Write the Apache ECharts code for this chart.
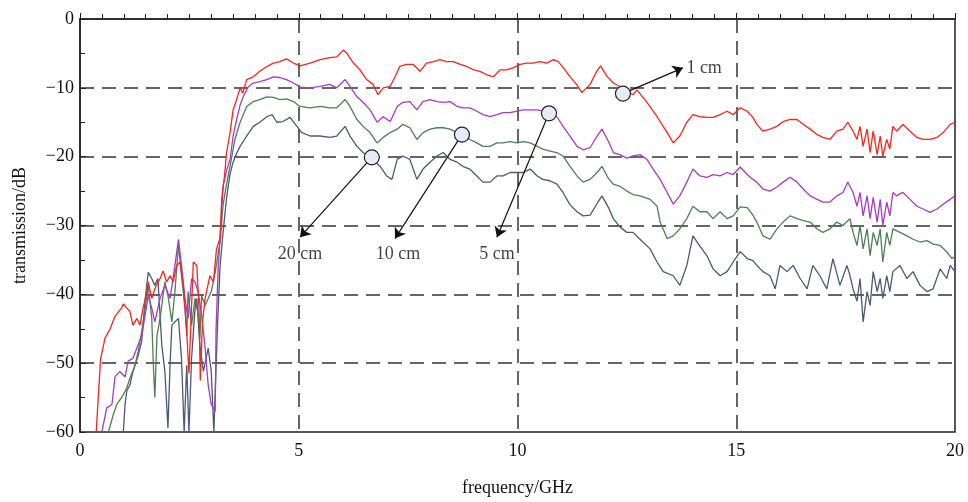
<!DOCTYPE html>
<html><head><meta charset="utf-8">
<script src="https://cdn.jsdelivr.net/npm/echarts@6/dist/echarts.min.js"></script>
<style>html,body{margin:0;padding:0;background:#fff}#c{width:968px;height:502px}</style>
</head><body><div id="c"></div>
<script>
// ---- data (frequency GHz, transmission dB) ----
const seriesNames = ['1 cm', '5 cm', '10 cm', '20 cm'];
const red1cm = [[0.37,-60],[0.47,-49.4],[0.57,-46.4],[0.69,-45],[0.8,-43.2],[0.95,-42],[0.99,-41.4],[1.07,-42],[1.14,-42.5],[1.21,-44.5],[1.3,-43.5],[1.37,-44.5],[1.44,-42],[1.52,-40],[1.56,-38.2],[1.64,-40.6],[1.71,-39.2],[1.83,-37.7],[1.9,-36.6],[1.98,-38.2],[2.06,-37.3],[2.13,-38.2],[2.21,-35.8],[2.29,-35.3],[2.36,-38.7],[2.44,-45.4],[2.49,-51.5],[2.53,-45],[2.59,-35.3],[2.67,-35.8],[2.72,-42],[2.75,-52.5],[2.8,-44],[2.86,-40.6],[2.97,-37.3],[3.05,-38.2],[3.12,-33.4],[3.2,-31.9],[3.24,-26],[3.3,-23],[3.35,-19.4],[3.43,-16.5],[3.5,-13.2],[3.58,-11.7],[3.66,-10],[3.72,-10.8],[3.81,-8.8],[3.96,-8.4],[4.11,-7.6],[4.27,-6.9],[4.42,-6.4],[4.57,-6.2],[4.72,-5.8],[4.88,-6.4],[5.03,-6.8],[5.26,-6.4],[5.49,-5.9],[5.71,-5.6],[5.87,-5.5],[6.02,-4.5],[6.1,-5],[6.25,-6.4],[6.4,-7.4],[6.55,-8.8],[6.7,-9.5],[6.81,-11],[6.93,-10],[7.09,-9.8],[7.2,-8.4],[7.31,-6.9],[7.46,-6.6],[7.62,-6.6],[7.77,-7.6],[7.92,-6.4],[8.08,-6.2],[8.23,-5.9],[8.38,-6.2],[8.53,-6.2],[8.69,-6.6],[8.84,-6.9],[9.0,-7.4],[9.14,-7.6],[9.3,-8.1],[9.45,-8.4],[9.6,-7.4],[9.75,-7.4],[9.9,-7.1],[10.06,-6.6],[10.21,-6.4],[10.36,-6.4],[10.51,-6.2],[10.67,-6.4],[10.82,-5.9],[10.93,-6.2],[11.05,-7.1],[11.2,-8.4],[11.35,-9.5],[11.47,-10.7],[11.66,-9.5],[11.81,-7.6],[11.9,-6.8],[12.04,-8.3],[12.19,-9.3],[12.34,-9.8],[12.5,-10.5],[12.64,-11],[12.73,-10.3],[12.96,-12.1],[13.19,-14.2],[13.42,-16.5],[13.56,-18],[13.71,-17],[13.87,-15],[14.01,-13.9],[14.17,-14.2],[14.33,-14.3],[14.47,-14.3],[14.63,-13.9],[14.79,-13.4],[14.93,-13.9],[15.09,-12.9],[15.25,-13.4],[15.38,-14.3],[15.47,-15.3],[15.61,-16.3],[15.77,-16],[15.93,-15.6],[16.07,-14.9],[16.23,-14.6],[16.39,-14.6],[16.53,-15.3],[16.69,-16],[16.85,-16.8],[16.98,-17.2],[17.14,-17.5],[17.3,-16.3],[17.44,-16],[17.55,-15],[17.67,-16.3],[17.76,-17.5],[17.83,-15.6],[17.9,-18.5],[17.99,-16],[18.06,-19.4],[18.13,-16.3],[18.22,-19.7],[18.29,-17],[18.35,-19.9],[18.44,-17.5],[18.51,-18.9],[18.58,-15.6],[18.67,-16.3],[18.74,-15.8],[18.81,-15.3],[18.97,-16.3],[19.13,-17.2],[19.27,-17.5],[19.43,-17.5],[19.59,-17.2],[19.73,-16.5],[19.89,-15.3],[20,-15]];
const purple5cm = [[0.5,-60],[0.61,-56.5],[0.73,-56],[0.8,-52],[0.91,-51.2],[1.03,-52],[1.1,-49.7],[1.21,-49.3],[1.3,-47.8],[1.41,-46],[1.49,-43],[1.56,-40.2],[1.64,-42],[1.71,-44],[1.83,-40.6],[1.94,-38.7],[2.06,-40.6],[2.17,-35.8],[2.25,-32],[2.32,-35.8],[2.4,-40.6],[2.47,-43.5],[2.55,-37.7],[2.63,-38.2],[2.7,-39.6],[2.78,-43],[2.86,-47.8],[2.93,-53.2],[3.0,-56],[3.09,-57],[3.11,-45],[3.16,-36],[3.22,-30],[3.27,-24.3],[3.35,-22],[3.43,-20.4],[3.5,-17],[3.58,-14.6],[3.66,-12.5],[3.73,-11.3],[3.85,-9.8],[3.96,-9.3],[4.11,-9.1],[4.27,-8.8],[4.42,-8.4],[4.57,-8.5],[4.72,-8.8],[4.88,-9.3],[5.03,-9.9],[5.26,-10],[5.49,-9.8],[5.71,-9.5],[5.87,-10],[6.06,-8.8],[6.17,-9.8],[6.33,-11.3],[6.47,-12.1],[6.63,-13.2],[6.79,-15],[6.93,-14.2],[7.09,-14.9],[7.25,-12.7],[7.38,-12.1],[7.54,-12],[7.7,-13.2],[7.84,-12],[8.0,-11.7],[8.16,-12],[8.3,-12.1],[8.46,-12],[8.62,-12.7],[8.75,-12.9],[8.91,-12.9],[9.07,-13.4],[9.21,-13.9],[9.37,-14.2],[9.53,-13.9],[9.67,-13.6],[9.83,-13.6],[9.99,-13.4],[10.13,-13.2],[10.29,-13.2],[10.45,-13.2],[10.58,-13.4],[10.74,-13.6],[10.9,-14.2],[11.04,-15.6],[11.2,-17],[11.36,-18.5],[11.5,-19],[11.66,-18.7],[11.82,-17],[11.93,-16],[12.08,-17.8],[12.19,-19.4],[12.34,-19.7],[12.5,-20.2],[12.64,-19.9],[12.8,-19.7],[12.96,-20.4],[13.1,-21.8],[13.26,-23.3],[13.42,-25.2],[13.56,-26.9],[13.71,-25.7],[13.87,-23.7],[14.01,-21.8],[14.17,-22.8],[14.33,-23],[14.47,-22.6],[14.63,-22.8],[14.79,-22.3],[14.93,-22.6],[15.09,-21.5],[15.25,-22.6],[15.38,-23.3],[15.47,-23.7],[15.61,-24.7],[15.77,-25],[15.93,-24.4],[16.07,-23.7],[16.23,-23],[16.39,-23.7],[16.53,-24.7],[16.69,-25.7],[16.85,-26.2],[16.98,-26.6],[17.14,-26.6],[17.3,-25.7],[17.44,-25.2],[17.55,-23.7],[17.67,-25.2],[17.76,-27.2],[17.83,-25.2],[17.9,-28.6],[17.99,-25.7],[18.06,-29],[18.13,-25.9],[18.22,-29.5],[18.29,-26.2],[18.35,-30],[18.44,-26.6],[18.51,-28.6],[18.58,-25.2],[18.67,-25.7],[18.74,-25.4],[18.81,-25.2],[18.97,-26.2],[19.13,-27.2],[19.27,-27.6],[19.43,-28.1],[19.59,-27.6],[19.73,-26.9],[19.89,-26.2],[20,-25.7]];
const green10cm = [[0.65,-60],[0.76,-57.5],[0.84,-56],[0.95,-55],[1.07,-53.6],[1.14,-52.2],[1.26,-50.3],[1.33,-48.3],[1.41,-45.4],[1.49,-42],[1.56,-38.7],[1.64,-43.5],[1.68,-50.8],[1.71,-55],[1.76,-46],[1.83,-43.5],[1.94,-38.2],[2.01,-40.2],[2.1,-44],[2.17,-39.6],[2.25,-32.8],[2.32,-37.3],[2.4,-42],[2.44,-46],[2.47,-39.6],[2.55,-44.5],[2.63,-40.6],[2.7,-43],[2.74,-46.4],[2.78,-40.2],[2.86,-41.6],[2.93,-40.6],[3.0,-39.6],[3.09,-36.8],[3.2,-32.4],[3.27,-27],[3.35,-24],[3.43,-21.4],[3.54,-17.5],[3.66,-15],[3.81,-12.7],[3.96,-12],[4.11,-11.7],[4.27,-11.3],[4.42,-11.4],[4.57,-11.7],[4.72,-11.6],[4.88,-12],[5.03,-12.7],[5.26,-12.9],[5.49,-12.7],[5.71,-12.9],[5.87,-12.9],[6.06,-11.7],[6.17,-12.7],[6.33,-14.6],[6.47,-15.6],[6.63,-16.5],[6.79,-18],[6.93,-17.2],[7.09,-16.5],[7.25,-16],[7.38,-15.3],[7.54,-15.8],[7.7,-17.5],[7.84,-16.5],[8.0,-16],[8.16,-15.8],[8.3,-15.8],[8.46,-16],[8.62,-16.5],[8.75,-17],[8.91,-17.5],[9.07,-18],[9.21,-18.5],[9.37,-18.5],[9.53,-18],[9.67,-18],[9.83,-17.8],[9.99,-18],[10.13,-17.8],[10.29,-18],[10.45,-18.5],[10.58,-18.9],[10.74,-19.2],[10.9,-19.4],[11.04,-19.9],[11.2,-21.4],[11.36,-22.8],[11.5,-23.7],[11.66,-23.3],[11.82,-22.3],[11.93,-21.4],[12.08,-23.2],[12.19,-24],[12.34,-24.3],[12.5,-25],[12.64,-25.5],[12.8,-25.7],[13.03,-26.2],[13.19,-27.2],[13.26,-29.5],[13.42,-31.9],[13.56,-31.5],[13.71,-30.5],[13.87,-29],[14.01,-27.2],[14.17,-28],[14.33,-28],[14.47,-29],[14.63,-28],[14.79,-29],[14.93,-28.6],[15.09,-27.3],[15.25,-27.4],[15.38,-28.5],[15.47,-29.5],[15.61,-31.5],[15.77,-32],[15.93,-30.5],[16.07,-29.5],[16.23,-28.6],[16.39,-29],[16.53,-29.3],[16.69,-29.5],[16.85,-30.5],[16.98,-31],[17.14,-30.5],[17.3,-29.5],[17.44,-30],[17.6,-29],[17.67,-31],[17.76,-32.9],[17.83,-30],[17.9,-33.4],[17.99,-30.5],[18.06,-34.4],[18.13,-31],[18.22,-32.9],[18.29,-30.5],[18.35,-35.3],[18.44,-31],[18.51,-32.9],[18.58,-30.5],[18.74,-31],[18.9,-31.5],[19.04,-32],[19.2,-32.4],[19.36,-32.2],[19.5,-32.7],[19.66,-32.9],[19.81,-33.8],[19.93,-34.8],[20,-34.5]];
const grey20cm = [[0.99,-60],[1.03,-56],[1.07,-54],[1.14,-53.2],[1.21,-51.2],[1.33,-48.9],[1.41,-46.8],[1.49,-40.6],[1.56,-36.8],[1.64,-37.7],[1.71,-38.7],[1.78,-37.7],[1.87,-47.4],[1.94,-51.2],[2.01,-59.4],[2.06,-50],[2.1,-44.5],[2.17,-44],[2.25,-43.5],[2.32,-49.3],[2.38,-60],[2.44,-50.3],[2.49,-60],[2.55,-49.3],[2.63,-42],[2.67,-40.6],[2.74,-47.4],[2.82,-51.2],[2.93,-47.8],[3.0,-51.2],[3.06,-60],[3.1,-60],[3.14,-45],[3.2,-36],[3.27,-31],[3.35,-26],[3.43,-22.5],[3.5,-20.8],[3.58,-19.5],[3.66,-18.5],[3.81,-17],[3.96,-15.6],[4.11,-15],[4.27,-14.2],[4.39,-13.9],[4.5,-15],[4.64,-14.9],[4.8,-14.3],[4.96,-15.6],[5.07,-16.5],[5.26,-17],[5.49,-17],[5.71,-17.2],[5.87,-17],[6.06,-15.6],[6.17,-17],[6.33,-18.5],[6.47,-19.4],[6.67,-20.3],[6.86,-21.4],[7.01,-22.8],[7.13,-23.3],[7.25,-20.4],[7.38,-19.9],[7.54,-20.4],[7.7,-23.3],[7.84,-21.8],[8.0,-20.8],[8.16,-19.9],[8.3,-19.4],[8.46,-20.4],[8.62,-20.8],[8.75,-21.4],[8.91,-21.8],[9.07,-22.8],[9.21,-23.7],[9.37,-23.7],[9.53,-22.8],[9.67,-22.8],[9.83,-22.3],[9.99,-22.3],[10.13,-22.3],[10.29,-21.8],[10.45,-22.8],[10.58,-23.3],[10.74,-23.5],[10.9,-24],[11.04,-25.2],[11.2,-27],[11.36,-28],[11.5,-28.6],[11.66,-28.5],[11.82,-26.8],[11.93,-25.7],[12.08,-27.4],[12.19,-29],[12.34,-30.2],[12.5,-31],[12.64,-31],[12.8,-32],[13.03,-33.4],[13.19,-35.3],[13.33,-36.7],[13.56,-37.3],[13.71,-38.7],[13.87,-35.8],[14.01,-31.5],[14.17,-33],[14.33,-34.4],[14.47,-36.3],[14.63,-37.3],[14.79,-36.7],[14.93,-35.3],[15.09,-33.8],[15.25,-34.8],[15.38,-35.1],[15.47,-35.8],[15.61,-36.7],[15.77,-37.3],[15.89,-39.2],[16.0,-35.8],[16.16,-36.7],[16.3,-35.8],[16.46,-37.7],[16.62,-39.2],[16.75,-35.8],[16.91,-37.3],[17.07,-39.2],[17.21,-34.8],[17.37,-38.7],[17.53,-35.8],[17.6,-37.3],[17.67,-39.2],[17.76,-41],[17.83,-37.7],[17.9,-44],[17.99,-39.6],[18.06,-41.6],[18.13,-36.7],[18.22,-39.6],[18.29,-37.7],[18.35,-40.6],[18.44,-37.3],[18.51,-39.6],[18.58,-36.7],[18.74,-35.8],[18.9,-37.7],[19.04,-36.7],[19.2,-38.7],[19.36,-39.6],[19.5,-39.2],[19.66,-36.3],[19.81,-37.7],[19.89,-35.8],[20,-36.7]];
// annotation markers (data coordinates)
const annotCircles = [[12.41,-10.84],[10.72,-13.7],[8.73,-16.8],[6.67,-20.1]];
const arrowEnds   = [[13.78,-7.1],[9.53,-31.7],[7.2,-31.9],[5.03,-31.7]];
const labelPoints = [[13.86,-7.1],[9.53,-34.2],[7.27,-34.2],[5.03,-34.2]];
const xTicks = [0,5,10,15,20];
const yTicks = [0,-10,-20,-30,-40,-50,-60];

const colors = ['#f0281e','#a53cc2','#4e7f55','#4d5878'];
const font = 'Liberation Serif';
const textColor = '#111';
const allSeries = [red1cm, purple5cm, green10cm, grey20cm];

const chart = echarts.init(document.getElementById('c'));
const lineSeries = allSeries.map((d, i) => ({
  name: seriesNames[i], type: 'line', data: d, showSymbol: false, symbol: 'none',
  lineStyle: {color: colors[i], width: 1.3}, z: 5 - i, clip: true
}));
const option = {
  animation: false,
  backgroundColor: '#fff',
  grid: {left: 80, right: 13, top: 19, bottom: 68, show: true, borderColor: '#222', borderWidth: 1.5, backgroundColor: 'transparent'},
  xAxis: {
    type: 'value', min: xTicks[0], max: xTicks[xTicks.length-1], interval: 5,
    name: 'frequency/GHz', nameLocation: 'middle', nameGap: 47,
    nameTextStyle: {fontFamily: font, fontSize: 18, color: textColor},
    axisLine: {lineStyle: {color: '#222', width: 1.5}},
    axisTick: {inside: true, length: 6, lineStyle: {color: '#222'}},
    minorTick: {show: true, splitNumber: 10, length: 5, lineStyle: {color: '#222'}},
    axisLabel: {fontFamily: font, fontSize: 18, color: textColor, margin: 10},
    splitLine: {show: true, showMinLine: false, showMaxLine: false, lineStyle: {color: '#333', type: [14, 8], width: 1.5}}
  },
  yAxis: {
    type: 'value', min: yTicks[yTicks.length-1], max: yTicks[0], interval: 10,
    name: 'transmission/dB', nameLocation: 'middle', nameGap: 51,
    nameTextStyle: {fontFamily: font, fontSize: 18, color: textColor},
    axisLine: {show: true, lineStyle: {color: '#222', width: 1.5}},
    axisTick: {inside: true, length: 6, lineStyle: {color: '#222'}},
    minorTick: {show: true, splitNumber: 2, length: 5, lineStyle: {color: '#222'}},
    axisLabel: {fontFamily: font, fontSize: 18, color: textColor, margin: 6,
      formatter: v => v < 0 ? '\u2212' + Math.abs(v) : String(v)},
    splitLine: {show: true, showMinLine: false, showMaxLine: false, lineStyle: {color: '#333', type: [14, 8], width: 1.5}}
  },
  series: lineSeries.concat([
    {
      type: 'scatter', name: 'markers', z: 20,
      data: annotCircles,
      symbol: 'circle', symbolSize: 15,
      itemStyle: {color: '#e8eaf6', borderColor: '#222', borderWidth: 1.2, opacity: 1},
      markLine: {
        silent: true, symbol: ['none', 'arrow'], symbolSize: 10, z: 15,
        label: {show: false},
        lineStyle: {color: '#111', type: 'solid', width: 1.2},
        data: annotCircles.map((p, i) => [{coord: p}, {coord: arrowEnds[i]}])
      }
    },
    {
      type: 'scatter', name: 'labels', z: 21, symbolSize: 0, silent: true,
      data: labelPoints.map((p, i) => ({
        value: p,
        label: {show: true, formatter: seriesNames[i], position: i === 0 ? 'right' : 'inside', distance: 0,
          fontFamily: font, fontSize: 18, color: textColor}
      }))
    }
  ])
};
chart.setOption(option);
</script></body></html>
